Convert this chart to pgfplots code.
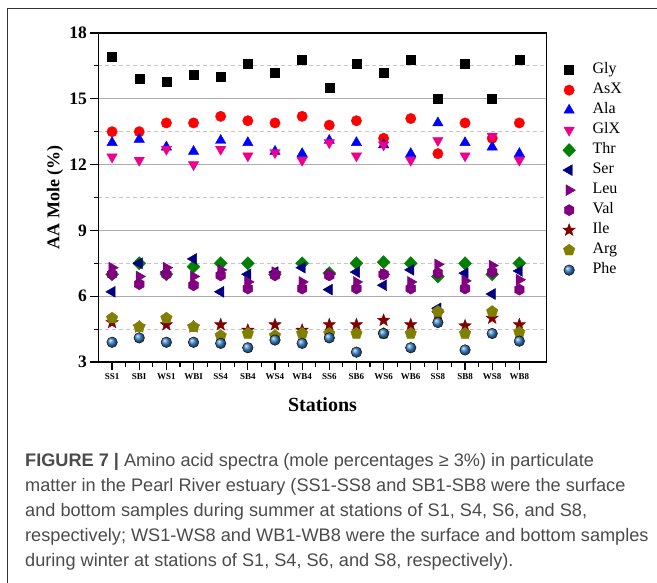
\documentclass[border=0pt]{standalone}
\usepackage{fontspec}
\setmainfont{Liberation Serif}
\newfontfamily\capfont{Liberation Sans}
\usepackage{pgfplots}
\pgfplotsset{compat=1.18}
\usepackage{pgfplotstable}
\usetikzlibrary{plotmarks}

\definecolor{thrgreen}{RGB}{0,128,0}
\definecolor{sernavy}{RGB}{0,0,128}
\definecolor{purp}{RGB}{128,0,128}
\definecolor{iledark}{RGB}{128,0,0}
\definecolor{argolive}{RGB}{128,128,0}
\definecolor{phecol}{RGB}{55,128,200}
\definecolor{capgray}{RGB}{75,75,75}

\pgfdeclareplotmark{hexagon*}{%
  \pgfpathmoveto{\pgfpointpolar{90}{\pgfplotmarksize}}%
  \pgfpathlineto{\pgfpointpolar{150}{\pgfplotmarksize}}%
  \pgfpathlineto{\pgfpointpolar{210}{\pgfplotmarksize}}%
  \pgfpathlineto{\pgfpointpolar{270}{\pgfplotmarksize}}%
  \pgfpathlineto{\pgfpointpolar{330}{\pgfplotmarksize}}%
  \pgfpathlineto{\pgfpointpolar{30}{\pgfplotmarksize}}%
  \pgfpathclose\pgfusepathqfillstroke}
\pgfdeclareplotmark{fstar*}{%
  \pgfpathmoveto{\pgfpointpolar{90}{\pgfplotmarksize}}%
  \pgfpathlineto{\pgfpointpolar{126}{0.42\pgfplotmarksize}}%
  \pgfpathlineto{\pgfpointpolar{162}{\pgfplotmarksize}}%
  \pgfpathlineto{\pgfpointpolar{198}{0.42\pgfplotmarksize}}%
  \pgfpathlineto{\pgfpointpolar{234}{\pgfplotmarksize}}%
  \pgfpathlineto{\pgfpointpolar{270}{0.42\pgfplotmarksize}}%
  \pgfpathlineto{\pgfpointpolar{306}{\pgfplotmarksize}}%
  \pgfpathlineto{\pgfpointpolar{342}{0.42\pgfplotmarksize}}%
  \pgfpathlineto{\pgfpointpolar{18}{\pgfplotmarksize}}%
  \pgfpathlineto{\pgfpointpolar{54}{0.42\pgfplotmarksize}}%
  \pgfpathclose\pgfusepathqfillstroke}

\pgfplotstableread{
x  Gly  AsX  Ala   GlX   Thr   Ser   Leu   Val   Ile   Arg   Phe
0  16.9 13.5 13.0  12.35 7.0   6.2   7.3   7.0   4.8   5.0   3.9
1  15.9 13.5 13.15 12.2  7.5   7.5   6.9   6.55  4.6   4.6   4.1
2  15.8 13.9 12.8  12.7  7.0   7.1   7.3   7.0   4.7   5.0   3.9
3  16.1 13.9 12.6  12.0  7.35  7.7   6.9   6.5   4.6   4.6   3.9
4  16.0 14.2 13.1  12.7  7.5   6.2   7.2   6.95  4.7   4.2   3.85
5  16.6 14.0 13.0  12.4  7.5   7.0   6.65  6.35  4.45  4.3   3.65
6  16.2 13.9 12.6  12.55 7.0   7.1   7.1   6.95  4.7   4.2   4.0
7  16.8 14.2 12.5  12.2  7.5   7.3   6.65  6.35  4.45  4.3   3.85
8  15.5 13.8 13.1  13.0  7.05  6.3   7.0   6.95  4.7   4.3   4.1
9  16.6 14.0 13.0  12.4  7.5   7.1   6.65  6.35  4.7   4.3   3.45
10 16.2 13.2 12.9  12.9  7.55  6.5   7.0   7.0   4.9   4.3   4.3
11 16.8 14.1 12.5  12.2  7.5   7.2   6.65  6.35  4.7   4.3   3.65
12 15.0 12.5 13.9  13.1  6.9   5.45  7.45  7.05  5.2   5.3   4.8
13 16.6 13.9 13.0  12.4  7.5   7.05  6.7   6.35  4.65  4.3   3.55
14 15.0 13.2 12.8  13.3  7.0   6.1   7.4   7.1   5.0   5.3   4.3
15 16.8 13.9 12.5  12.2  7.5   7.15  6.75  6.3   4.7   4.35  3.95
}\data

\begin{document}
\begin{tikzpicture}[x=1pt,y=1pt]
\useasboundingbox (0,0) rectangle (657,-583);
\draw[line width=1pt, black!80] (7,-583) -- (7,-9) -- (657,-9);
\begin{axis}[
  at={(98.5pt,-362pt)}, anchor=south west,
  scale only axis, width=448pt, height=329pt,
  xmin=-0.5, xmax=16, ymin=3, ymax=18,
  xtick={0,...,15},
  xticklabels={SS1,SBI,WS1,WBI,SS4,SB4,WS4,WB4,SS6,SB6,WS6,WB6,SS8,SB8,WS8,WB8},
  minor x tick num=1,
  ytick={3,6,...,18}, minor y tick num=1,
  ymajorgrids, yminorgrids,
  major grid style={line width=0.9pt, gray!65},
  minor grid style={line width=0.8pt, gray!45, dash pattern=on 4pt off 3pt},
  tick align=outside, tick pos=left,
  major tick length=8pt, minor tick length=4.5pt,
  axis line style={line width=1.5pt},
  tick style={line width=1.2pt, black},
  /pgf/number format/assume math mode=true,
  yticklabel style={font=\fontsize{17.5}{18}\selectfont\bfseries},
  xticklabel style={font=\fontsize{9}{10}\selectfont\bfseries},
  ylabel={AA Mole (\%)},
  xlabel={Stations},
  ylabel style={font=\fontsize{18}{20}\selectfont\bfseries, at={(axis description cs:-0.097,0.5)}, anchor=center},
  xlabel style={font=\fontsize{20}{22}\selectfont\bfseries, at={(axis description cs:0.5,-0.13)}, anchor=center},
  legend style={at={(axis description cs:1,1)}, anchor=north west, xshift=16pt, yshift=-28.7pt,
    draw=none, fill=none, inner sep=0pt, row sep=3.5pt, column sep=12pt,
    font=\fontsize{16}{16}\selectfont,
    nodes={inner ysep=1pt, inner xsep=5pt, text height=11pt, text depth=3.5pt}},
  legend cell align=left,
  legend image code/.code={\draw[mark repeat=2,mark phase=2,#1] plot coordinates {(0pt,0pt) (8pt,0pt) (21pt,0pt)};},
]
\addplot[only marks, mark=square*, color=black, mark size=4.5pt] table[x=x,y=Gly]{\data};
\addlegendentry{Gly}
\addplot[only marks, mark=*, color=red, mark size=5.2pt] table[x=x,y=AsX]{\data};
\addlegendentry{AsX}
\addplot[only marks, mark=triangle*, color=blue, mark size=6pt] table[x=x,y=Ala]{\data};
\addlegendentry{Ala}
\addplot[only marks, mark=triangle*, color=magenta, mark size=6pt, mark options={rotate=180}] table[x=x,y=GlX]{\data};
\addlegendentry{GlX}
\addplot[only marks, mark=diamond*, color=thrgreen, mark size=6.6pt, mark options={xscale=1.3}] table[x=x,y=Thr]{\data};
\addlegendentry{Thr}
\addplot[only marks, mark=triangle*, color=sernavy, mark size=6.3pt, mark options={rotate=90}] table[x=x,y=Ser]{\data};
\addlegendentry{Ser}
\addplot[only marks, mark=triangle*, color=purp, mark size=6.3pt, mark options={rotate=-90}] table[x=x,y=Leu]{\data};
\addlegendentry{Leu}
\addplot[only marks, mark=hexagon*, color=purp, mark size=5.6pt] table[x=x,y=Val]{\data};
\addlegendentry{Val}
\addplot[only marks, mark=fstar*, color=iledark, mark size=6.5pt] table[x=x,y=Ile]{\data};
\addlegendentry{Ile}
\addplot[only marks, mark=pentagon*, color=argolive, mark size=6pt] table[x=x,y=Arg]{\data};
\addlegendentry{Arg}
\addplot[only marks, mark=ball, mark size=5.3pt, mark options={ball color=phecol}] table[x=x,y=Phe]{\data};
\addlegendentry{Phe}
\end{axis}
\begin{scope}[every node/.style={anchor=base west, inner sep=0pt, text=capgray, font=\capfont\fontsize{18.15}{22}\selectfont}]
\node at (25,-466) {{\bfseries FIGURE 7 |} Amino acid spectra (mole percentages ≥ 3\%) in particulate};
\node at (25,-491) {matter in the Pearl River estuary (SS1-SS8 and SB1-SB8 were the surface};
\node at (25,-516) {and bottom samples during summer at stations of S1, S4, S6, and S8,};
\node at (25,-541) {respectively; WS1-WS8 and WB1-WB8 were the surface and bottom samples};
\node at (25,-566) {during winter at stations of S1, S4, S6, and S8, respectively).};
\end{scope}
\end{tikzpicture}
\end{document}
